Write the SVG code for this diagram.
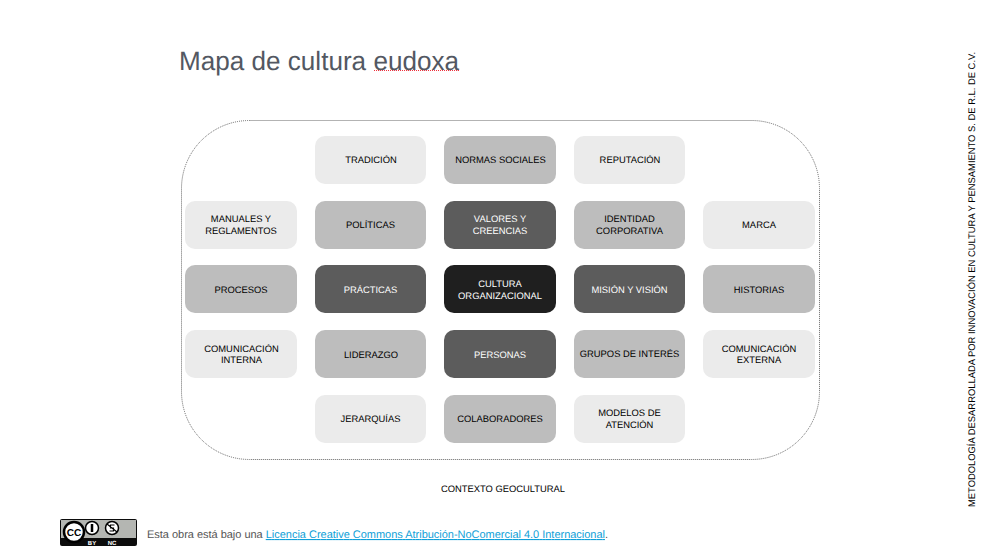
<svg xmlns="http://www.w3.org/2000/svg" width="998" height="556" viewBox="0 0 998 556">
<style>
text{font-family:"Liberation Sans",Arial,sans-serif;text-rendering:geometricPrecision}
.b text{font-size:9.400px;text-anchor:middle}
.l rect{fill:#ebebeb}.m rect{fill:#bdbdbd}.d rect{fill:#5c5c5c}.k rect{fill:#1f1f1f}
.l text,.m text{fill:#000}.d text,.k text{fill:#fff}
</style>
<rect width="998" height="556" fill="#fff"/>
<text id="title" x="179" y="69.500" font-size="26.500" fill="#535862" textLength="280" lengthAdjust="spacingAndGlyphs">Mapa de cultura eudoxa</text>
<path d="M374 70.500H459" fill="none" stroke="#f0303c" stroke-width="1" stroke-dasharray="1 1"/>
<rect id="context-frame" x="181.500" y="120.500" width="638" height="339" rx="68" ry="68" fill="none" stroke="#666" stroke-width="1" stroke-dasharray="1 1"/>
<g id="connectors"/>
<g id="tradicion" class="b l"><rect x="315" y="136" width="111" height="48" rx="10"/><text x="371" y="163">TRADICIÓN</text></g>
<g id="normas" class="b m"><rect x="444" y="136" width="112" height="48" rx="10"/><text x="500.500" y="163">NORMAS SOCIALES</text></g>
<g id="reputacion" class="b l"><rect x="574" y="136" width="111" height="48" rx="10"/><text x="630" y="163">REPUTACIÓN</text></g>
<g id="manuales" class="b l"><rect x="185" y="201" width="112" height="48" rx="10"/><text x="241" y="222">MANUALES Y</text><text x="241" y="234">REGLAMENTOS</text></g>
<g id="politicas" class="b m"><rect x="315" y="201" width="111" height="48" rx="10"/><text x="370.500" y="228">POLÍTICAS</text></g>
<g id="valores" class="b d"><rect x="444" y="201" width="112" height="48" rx="10"/><text x="500" y="222">VALORES Y</text><text x="500" y="234">CREENCIAS</text></g>
<g id="identidad" class="b m"><rect x="574" y="201" width="111" height="48" rx="10"/><text x="629.500" y="222">IDENTIDAD</text><text x="629.500" y="234">CORPORATIVA</text></g>
<g id="marca" class="b l"><rect x="703" y="201" width="112" height="48" rx="10"/><text x="759" y="228">MARCA</text></g>
<g id="procesos" class="b m"><rect x="185" y="265" width="112" height="48" rx="10"/><text x="241" y="293">PROCESOS</text></g>
<g id="practicas" class="b d"><rect x="315" y="265" width="111" height="48" rx="10"/><text x="370.500" y="293">PRÁCTICAS</text></g>
<g id="cultura" class="b k"><rect x="444" y="265" width="112" height="48" rx="10"/><text x="500" y="287">CULTURA</text><text x="500" y="299">ORGANIZACIONAL</text></g>
<g id="mision" class="b d"><rect x="574" y="265" width="111" height="48" rx="10"/><text x="629.500" y="293">MISIÓN Y VISIÓN</text></g>
<g id="historias" class="b m"><rect x="703" y="265" width="112" height="48" rx="10"/><text x="759" y="293">HISTORIAS</text></g>
<g id="com-interna" class="b l"><rect x="185" y="330" width="112" height="48" rx="10"/><text x="241.500" y="352">COMUNICACIÓN</text><text x="241.500" y="363">INTERNA</text></g>
<g id="liderazgo" class="b m"><rect x="315" y="330" width="111" height="48" rx="10"/><text x="371" y="358">LIDERAZGO</text></g>
<g id="personas" class="b d"><rect x="444" y="330" width="112" height="48" rx="10"/><text x="500" y="358">PERSONAS</text></g>
<g id="grupos" class="b m"><rect x="574" y="330" width="111" height="48" rx="10"/><text x="629.500" y="357">GRUPOS DE INTERÉS</text></g>
<g id="com-externa" class="b l"><rect x="703" y="330" width="112" height="48" rx="10"/><text x="759" y="352">COMUNICACIÓN</text><text x="759" y="363">EXTERNA</text></g>
<g id="jerarquias" class="b l"><rect x="315" y="395" width="111" height="48" rx="10"/><text x="370.500" y="422">JERARQUÍAS</text></g>
<g id="colaboradores" class="b m"><rect x="444" y="395" width="112" height="48" rx="10"/><text x="500" y="422">COLABORADORES</text></g>
<g id="modelos" class="b l"><rect x="574" y="395" width="111" height="48" rx="10"/><text x="629.500" y="416">MODELOS DE</text><text x="629.500" y="428">ATENCIÓN</text></g>
<text id="contexto" x="503" y="492" font-size="9.400" text-anchor="middle" fill="#000">CONTEXTO GEOCULTURAL</text>
<text id="side" transform="translate(975 507) rotate(-90)" font-size="9.600" fill="#000" textLength="455" lengthAdjust="spacingAndGlyphs">METODOLOGÍA DESARROLLADA POR INNOVACIÓN EN CULTURA Y PENSAMIENTO S. DE R.L. DE C.V.</text>
<g id="cc-badge">
<rect x="60" y="519" width="77" height="27" rx="2" fill="#0c0c0c"/>
<rect x="61" y="520" width="75" height="18" fill="#b4b6b2"/>
<circle cx="74" cy="532" r="10" fill="#fff" stroke="#000" stroke-width="2.500"/>
<text x="74" y="535.500" font-size="10" font-weight="bold" text-anchor="middle" fill="#000">CC</text>
<circle cx="92" cy="528" r="6.500" fill="#fff" stroke="#000" stroke-width="1.500"/>
<path d="M92 524v8" stroke="#000" stroke-width="2.500"/>
<circle cx="112" cy="528" r="6.500" fill="#fff" stroke="#000" stroke-width="1.500"/>
<path d="M107 524l10 8M114.500 525h-4v3h3v3h-4" stroke="#000" stroke-width="1.200" fill="none"/>
<text x="92" y="544.500" font-size="6" font-weight="bold" text-anchor="middle" fill="#fff">BY</text>
<text x="112" y="544.500" font-size="6" font-weight="bold" text-anchor="middle" fill="#fff">NC</text>
</g>
<text id="license" x="147" y="538" font-size="11" fill="#555" textLength="461">Esta obra está bajo una <tspan fill="#0f9fd8" text-decoration="underline">Licencia Creative Commons Atribución-NoComercial 4.0 Internacional</tspan>.</text>
</svg>
